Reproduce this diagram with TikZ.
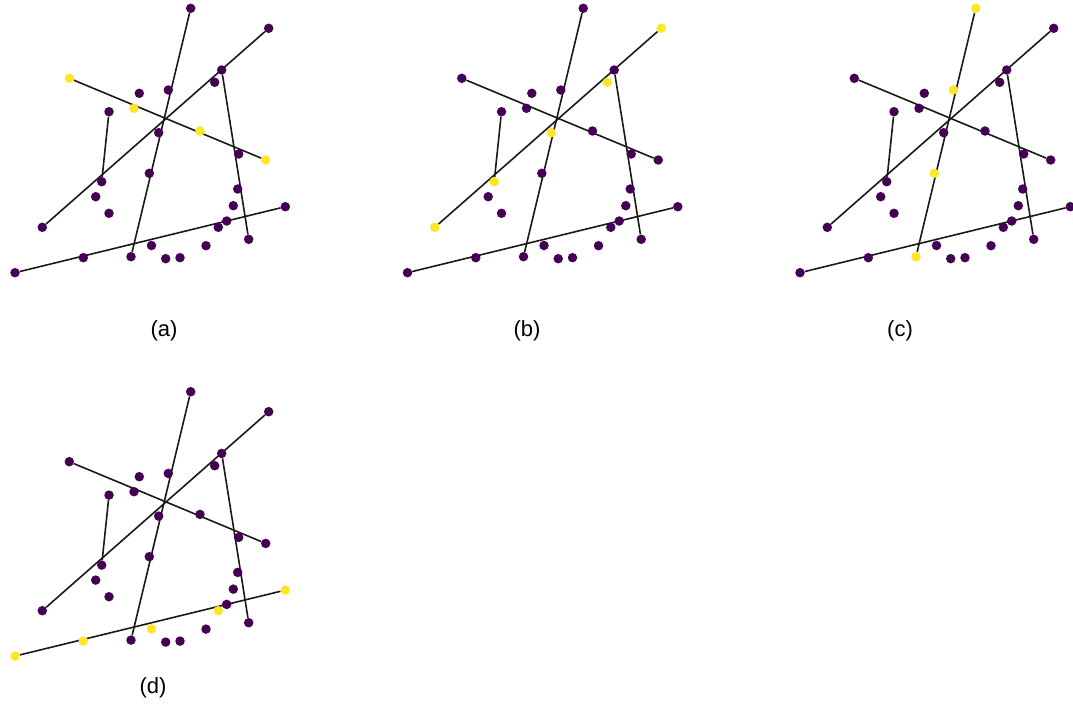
\documentclass[tikz,border=0pt]{standalone}
\usepackage{fontspec}
\setmainfont{Liberation Sans}
\usetikzlibrary{backgrounds}
\definecolor{vpurple}{HTML}{440154}
\definecolor{vyellow}{HTML}{FDE725}

% one panel of points and lines; #1 = name prefix
\newcommand{\ptpanel}[1]{
  % points on the lines
  \node[dot,grpS] (#1S1) at (190.7,8.3) {};
  \node[dot,grpS] (#1S2) at (168.3,90) {};
  \node[dot,grpS] (#1S3) at (149.3,173.3) {};
  \node[dot,grpS] (#1S4) at (131,256.7) {};
  \node[dot,grpD] (#1D1) at (42.3,227.3) {};
  \node[dot,grpD] (#1D2) at (101.7,181.7) {};
  \node[dot,grpD] (#1D3) at (158.7,132.7) {};
  \node[dot,grpD] (#1D4) at (214.7,82.3) {};
  \node[dot,grpD] (#1D5) at (268.7,28.3) {};
  \node[dot,grpE] (#1E1) at (69.3,78.3) {};
  \node[dot,grpE] (#1E2) at (134,108.3) {};
  \node[dot,grpE] (#1E3) at (200,131) {};
  \node[dot,grpE] (#1E4) at (265.7,160) {};
  \node[dot] (#1F1) at (109,111.7) {};
  \node[dot] (#1R1) at (221.7,70) {};
  \node[dot] (#1R2) at (238.7,154) {};
  \node[dot] (#1R3) at (248.7,239.3) {};
  \node[dot,grpB] (#1B1) at (15,272.7) {};
  \node[dot,grpB] (#1B2) at (83.3,257.7) {};
  \node[dot,grpB] (#1B3) at (151.5,245.5) {};
  \node[dot,grpB] (#1B4) at (218.3,227.3) {};
  \node[dot,grpB] (#1B5) at (285.3,206.7) {};
  % loose points
  \foreach \px/\py [count=\k] in {139.3/93.3, 95.7/196.7, 109/213.3,
      237.7/189, 233.3/205.7, 226.7/221, 206/245.7, 165.7/258.7, 180/257.7}
    \node[dot] (#1L\k) at (\px,\py) {};
  \begin{scope}[on background layer]
    \draw[lin] (#1S1) -- (#1S4);
    \draw[lin] (#1D1) -- (#1D5);
    \draw[lin] (#1E1) -- (#1E4);
    \draw[lin] (#1F1) -- (#1D2);
    \draw[lin] (#1R1) -- (#1R3);
    \draw[lin] (#1B1) -- (#1B5);
  \end{scope}
}

\begin{document}
\begin{tikzpicture}[
  x=1pt, y=-1pt,
  dot/.style={circle, fill=vpurple, inner sep=0pt, minimum size=9.5pt},
  lin/.style={draw=black!90, line width=1.6pt},
  hot/.style={fill=vyellow},
  grpS/.style={}, grpD/.style={}, grpE/.style={}, grpB/.style={},
  tag/.style={font=\fontsize{22}{26}\selectfont}
]
  \useasboundingbox (0,0) rectangle (1073,704);

  \begin{scope}[grpE/.style={hot}]
    \ptpanel{a}
  \end{scope}
  \begin{scope}[shift={(392.5,0)}, grpD/.style={hot}]
    \ptpanel{b}
  \end{scope}
  \begin{scope}[shift={(785,0)}, grpS/.style={hot}]
    \ptpanel{c}
  \end{scope}
  \begin{scope}[shift={(0,383.4)}, grpB/.style={hot}]
    \ptpanel{d}
  \end{scope}

  \node[tag] (capa) at (164,331) {(a)};
  \node[tag] (capb) at (527,331) {(b)};
  \node[tag] (capc) at (900,331) {(c)};
  \node[tag] (capd) at (153,688) {(d)};
\end{tikzpicture}
\end{document}
